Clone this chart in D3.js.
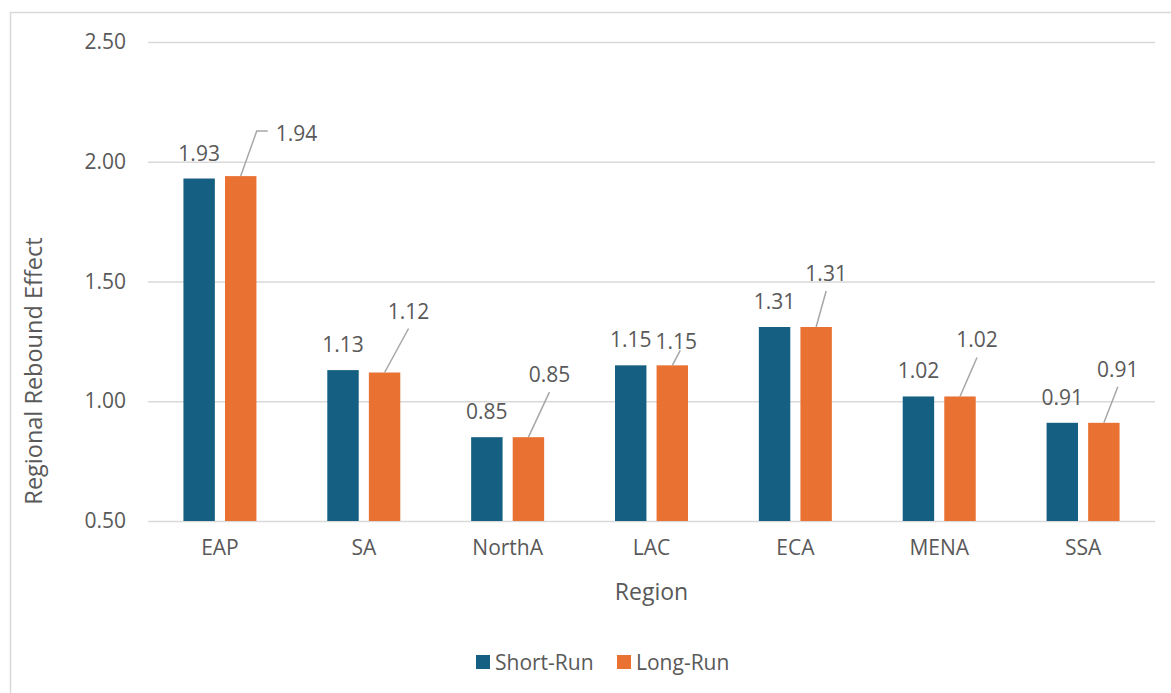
<!DOCTYPE html>
<html>
<head>
<meta charset="utf-8">
<script src="https://cdn.jsdelivr.net/npm/d3@7"></script>
<style>
  html, body { margin: 0; padding: 0; background: #fff; }
  svg { display: block; }
  text { font-family: "Open Sans", "Noto Sans", sans-serif; fill: #595959; }
</style>
</head>
<body>
<svg id="chart" width="1171" height="693"></svg>
<script>
// Regional rebound effect, short-run vs long-run
const regions = ["EAP", "SA", "NorthA", "LAC", "ECA", "MENA", "SSA"];
const shortRun = [1.93, 1.13, 0.85, 1.15, 1.31, 1.02, 0.91];
const longRun  = [1.94, 1.12, 0.85, 1.15, 1.31, 1.02, 0.91];
const seriesNames = ["Short-Run", "Long-Run"];
const yTicks = [0.5, 1.0, 1.5, 2.0, 2.5];

// Callout placement for the long-run labels, relative to each bar's top centre
const calloutOffsets = [[16, -45], [24, -44], [21, -45], [8, -15], [10, -36], [17, -39], [14, -36]];

const colors = ["#156082", "#E97132"];
const W = 1171, H = 693;
const margin = { left: 148, right: 16, top: 42, bottom: 172 };
const labelSize = "21px";

const svg = d3.select("#chart");

// chart frame
svg.append("rect")
  .attr("x", 10.5).attr("y", 12.5)
  .attr("width", W + 20).attr("height", H + 20)
  .attr("fill", "none").attr("stroke", "#d9d9d9").attr("stroke-width", 1.5);

const x = d3.scaleBand().domain(regions).range([margin.left, W - margin.right]).paddingInner(0).paddingOuter(0);
const groupHalf = 36.5;
const inner = d3.scaleBand().domain(seriesNames)
  .range([x.bandwidth() / 2 - groupHalf, x.bandwidth() / 2 + groupHalf])
  .paddingInner(0.244).paddingOuter(0);
const y = d3.scaleLinear().domain([0.5, 2.5]).range([H - margin.bottom, margin.top]);

// gridlines + y tick labels
const yAxis = d3.axisLeft(y).tickValues(yTicks).tickFormat(d3.format(".2f"))
  .tickSize(-(W - margin.right - margin.left)).tickPadding(22);
const gy = svg.append("g").attr("transform", `translate(${margin.left},0)`).call(yAxis);
gy.select(".domain").remove();
gy.selectAll(".tick line").attr("stroke", "#d9d9d9").attr("stroke-width", 1.5);
gy.selectAll(".tick text").style("font-size", labelSize).attr("fill", "#595959");

// x category labels
const xAxis = d3.axisBottom(x).tickSize(0).tickPadding(19);
const gx = svg.append("g").attr("transform", `translate(0,${y(0.5)})`).call(xAxis);
gx.select(".domain").remove();
gx.selectAll(".tick text").style("font-size", labelSize).attr("fill", "#595959");

const series = [shortRun, longRun];
const bars = svg.append("g");
series.forEach((vals, s) => {
  bars.selectAll(null).data(regions).enter().append("rect")
    .attr("x", d => x(d) + inner(seriesNames[s]))
    .attr("y", (d, i) => y(vals[i]))
    .attr("width", inner.bandwidth())
    .attr("height", (d, i) => y(0.5) - y(vals[i]))
    .attr("fill", colors[s]);
});

// short-run value labels, centred above bars
svg.append("g").selectAll("text").data(regions).enter().append("text")
  .attr("x", d => x(d) + inner("Short-Run") + inner.bandwidth() / 2)
  .attr("y", (d, i) => y(shortRun[i]) - 26)
  .attr("text-anchor", "middle").attr("dominant-baseline", "central")
  .style("font-size", labelSize)
  .text((d, i) => d3.format(".2f")(shortRun[i]));

// long-run value labels with leader lines
const callouts = svg.append("g");
regions.forEach((r, i) => {
  const bx = x(r) + inner("Long-Run") + inner.bandwidth() / 2;
  const by = y(longRun[i]);
  const [dx, dy] = calloutOffsets[i];
  const tx = bx + dx, ty = by + dy;
  const label = d3.format(".2f")(longRun[i]);
  if (i === 0) {
    // elbow callout beside the bar
    callouts.append("path")
      .attr("d", `M${bx},${by}L${tx},${ty}L${tx + 11},${ty}`)
      .attr("fill", "none").attr("stroke", "#a6a6a6").attr("stroke-width", 1.5);
    callouts.append("text")
      .attr("x", tx + 19).attr("y", ty + 2)
      .attr("dominant-baseline", "central").style("font-size", labelSize)
      .text(label);
  } else {
    callouts.append("line")
      .attr("x1", bx).attr("y1", by).attr("x2", tx).attr("y2", ty)
      .attr("stroke", "#a6a6a6").attr("stroke-width", 1.5);
    const short = dy > -20;
    callouts.append("text")
      .attr("x", short ? tx - 4 : tx).attr("y", short ? ty - 9 : ty - 18)
      .attr("text-anchor", "middle").attr("dominant-baseline", "central")
      .style("font-size", labelSize)
      .text(label);
  }
});

// axis titles
svg.append("text")
  .attr("transform", "translate(33,371) rotate(-90)")
  .attr("text-anchor", "middle").attr("dominant-baseline", "central")
  .style("font-size", "23.5px").text("Regional Rebound Effect");
svg.append("text")
  .attr("x", (margin.left + W - margin.right) / 2).attr("y", 591)
  .attr("text-anchor", "middle").attr("dominant-baseline", "central")
  .style("font-size", "23px").text("Region");

// legend
const legend = svg.append("g");
const legendX = [476, 617];
seriesNames.forEach((n, s) => {
  legend.append("rect").attr("x", legendX[s]).attr("y", 655).attr("width", 14).attr("height", 14).attr("fill", colors[s]);
  legend.append("text").attr("x", legendX[s] + 19).attr("y", 662)
    .attr("dominant-baseline", "central").style("font-size", labelSize).text(n);
});
</script>
</body>
</html>
